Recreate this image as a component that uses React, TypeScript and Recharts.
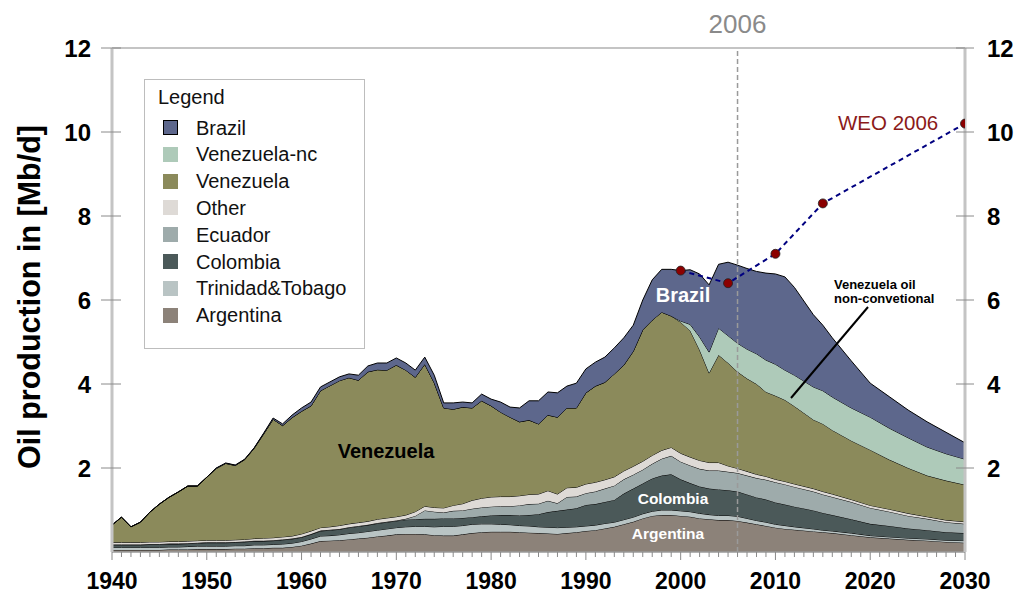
import React from 'react';
import { ComposedChart, Area, Line, XAxis, YAxis, ReferenceLine } from 'recharts';

const FONT = '"Liberation Sans", Arial, Helvetica, sans-serif';

const years = [
  1940, 1941, 1942, 1943, 1944, 1945, 1946, 1947, 1948, 1949,
  1950, 1951, 1952, 1953, 1954, 1955, 1956, 1957, 1958, 1959,
  1960, 1961, 1962, 1963, 1964, 1965, 1966, 1967, 1968, 1969,
  1970, 1971, 1972, 1973, 1974, 1975, 1976, 1977, 1978, 1979,
  1980, 1981, 1982, 1983, 1984, 1985, 1986, 1987, 1988, 1989,
  1990, 1991, 1992, 1993, 1994, 1995, 1996, 1997, 1998, 1999,
  2000, 2001, 2002, 2003, 2004, 2005, 2006, 2007, 2008, 2009,
  2010, 2011, 2012,
  2014, 2015, 2016, 2018, 2020, 2022, 2024, 2026, 2028, 2030,
];

const argentina = [
  0.05, 0.05, 0.05, 0.05, 0.05, 0.05, 0.06, 0.06, 0.06, 0.07,
  0.07, 0.07, 0.07, 0.08, 0.08, 0.09, 0.09, 0.10, 0.10, 0.12,
  0.15, 0.20, 0.26, 0.27, 0.28, 0.30, 0.32, 0.34, 0.37, 0.39,
  0.42, 0.43, 0.43, 0.42, 0.40, 0.39, 0.39, 0.42, 0.45, 0.47,
  0.48, 0.48, 0.48, 0.47, 0.46, 0.45, 0.44, 0.43, 0.45, 0.47,
  0.50, 0.52, 0.56, 0.60, 0.66, 0.72, 0.80, 0.86, 0.88, 0.88,
  0.86, 0.84, 0.80, 0.78, 0.76, 0.76, 0.74, 0.70, 0.66, 0.62,
  0.58, 0.55, 0.53,
  0.49, 0.47, 0.45, 0.40, 0.35, 0.32, 0.29, 0.27, 0.24, 0.22,
];

const trinidad = [
  0.06, 0.06, 0.06, 0.06, 0.06, 0.06, 0.06, 0.06, 0.07, 0.07,
  0.07, 0.07, 0.07, 0.07, 0.07, 0.08, 0.08, 0.08, 0.09, 0.09,
  0.10, 0.11, 0.12, 0.12, 0.13, 0.14, 0.14, 0.15, 0.15, 0.16,
  0.16, 0.17, 0.18, 0.19, 0.20, 0.22, 0.22, 0.21, 0.21, 0.20,
  0.19, 0.18, 0.17, 0.16, 0.16, 0.15, 0.15, 0.15, 0.14, 0.13,
  0.12, 0.12, 0.12, 0.11, 0.11, 0.11, 0.11, 0.11, 0.12, 0.12,
  0.12, 0.12, 0.12, 0.11, 0.11, 0.11, 0.11, 0.10, 0.09, 0.09,
  0.08, 0.08, 0.07,
  0.06, 0.05, 0.05, 0.05, 0.04, 0.04, 0.04, 0.04, 0.04, 0.05,
];

const colombia = [
  0.06, 0.06, 0.06, 0.06, 0.07, 0.07, 0.07, 0.07, 0.07, 0.07,
  0.08, 0.08, 0.08, 0.08, 0.09, 0.09, 0.09, 0.09, 0.10, 0.10,
  0.10, 0.11, 0.12, 0.13, 0.13, 0.14, 0.15, 0.15, 0.16, 0.16,
  0.16, 0.17, 0.17, 0.18, 0.19, 0.19, 0.19, 0.18, 0.17, 0.18,
  0.20, 0.22, 0.23, 0.24, 0.26, 0.30, 0.36, 0.40, 0.42, 0.44,
  0.50, 0.50, 0.51, 0.53, 0.62, 0.68, 0.72, 0.78, 0.82, 0.85,
  0.75, 0.68, 0.64, 0.62, 0.62, 0.60, 0.59, 0.57, 0.55, 0.54,
  0.52, 0.50, 0.48,
  0.44, 0.41, 0.38, 0.33, 0.28, 0.26, 0.23, 0.21, 0.19, 0.18,
];

const ecuador = [
  0.01, 0.01, 0.01, 0.01, 0.01, 0.01, 0.01, 0.01, 0.01, 0.01,
  0.01, 0.01, 0.01, 0.01, 0.01, 0.01, 0.01, 0.01, 0.01, 0.01,
  0.01, 0.01, 0.01, 0.01, 0.01, 0.01, 0.01, 0.01, 0.01, 0.01,
  0.01, 0.02, 0.08, 0.20, 0.17, 0.14, 0.18, 0.18, 0.20, 0.21,
  0.21, 0.21, 0.21, 0.24, 0.26, 0.25, 0.27, 0.18, 0.30, 0.28,
  0.28, 0.30, 0.32, 0.34, 0.34, 0.33, 0.33, 0.35, 0.40, 0.44,
  0.42, 0.42, 0.42, 0.43, 0.45, 0.44, 0.44, 0.45, 0.46, 0.47,
  0.48, 0.48, 0.47,
  0.45, 0.44, 0.43, 0.41, 0.38, 0.34, 0.30, 0.27, 0.24, 0.22,
];

const other = [
  0.05, 0.05, 0.05, 0.05, 0.05, 0.05, 0.05, 0.05, 0.05, 0.05,
  0.05, 0.05, 0.05, 0.05, 0.05, 0.05, 0.06, 0.06, 0.06, 0.06,
  0.07, 0.07, 0.07, 0.07, 0.08, 0.08, 0.08, 0.08, 0.09, 0.09,
  0.09, 0.09, 0.10, 0.10, 0.10, 0.11, 0.13, 0.16, 0.20, 0.22,
  0.23, 0.23, 0.23, 0.23, 0.23, 0.23, 0.24, 0.22, 0.22, 0.22,
  0.22, 0.22, 0.21, 0.21, 0.20, 0.20, 0.20, 0.20, 0.20, 0.20,
  0.20, 0.20, 0.20, 0.19, 0.19, 0.14, 0.11, 0.10, 0.09, 0.08,
  0.07, 0.07, 0.07,
  0.07, 0.07, 0.07, 0.06, 0.06, 0.06, 0.06, 0.05, 0.05, 0.05,
];

const venezuela = [
  0.41, 0.60, 0.37, 0.48, 0.71, 0.90, 1.05, 1.18, 1.31, 1.30,
  1.50, 1.71, 1.83, 1.77, 1.90, 2.15, 2.48, 2.82, 2.65, 2.82,
  2.92, 2.98, 3.26, 3.36, 3.45, 3.48, 3.39, 3.56, 3.56, 3.52,
  3.61, 3.45, 3.20, 3.38, 2.97, 2.38, 2.29, 2.30, 2.20, 2.32,
  2.17, 2.01, 1.89, 1.76, 1.77, 1.67, 1.80, 1.83, 1.90, 1.89,
  2.17, 2.29, 2.32, 2.45, 2.52, 2.74, 3.13, 3.22, 3.29, 3.13,
  3.12, 3.01, 2.63, 2.13, 2.56, 2.45, 2.30, 2.21, 2.15, 2.01,
  1.99, 1.94, 1.85,
  1.64, 1.61, 1.52, 1.40, 1.32, 1.18, 1.08, 0.98, 0.94, 0.88,
];

const venezuelaNc = [
  0, 0, 0, 0, 0, 0, 0, 0, 0, 0,
  0, 0, 0, 0, 0, 0, 0, 0, 0, 0,
  0, 0, 0, 0, 0, 0, 0, 0, 0, 0,
  0, 0, 0, 0, 0, 0, 0, 0, 0, 0,
  0, 0, 0, 0, 0, 0, 0, 0, 0, 0,
  0, 0, 0, 0, 0, 0, 0, 0, 0, 0,
  0.03, 0.15, 0.31, 0.50, 0.64, 0.65, 0.68, 0.70, 0.72, 0.76,
  0.75, 0.71, 0.74,
  0.78, 0.79, 0.79, 0.78, 0.78, 0.75, 0.72, 0.68, 0.64, 0.61,
];

const brazil = [
  0, 0, 0, 0, 0, 0, 0, 0, 0, 0,
  0, 0.01, 0.01, 0.01, 0.01, 0.01, 0.02, 0.03, 0.04, 0.06,
  0.08, 0.09, 0.09, 0.09, 0.09, 0.09, 0.12, 0.14, 0.16, 0.17,
  0.17, 0.17, 0.17, 0.17, 0.18, 0.12, 0.15, 0.12, 0.12, 0.16,
  0.16, 0.24, 0.24, 0.33, 0.46, 0.55, 0.55, 0.58, 0.52, 0.59,
  0.57, 0.57, 0.60, 0.62, 0.65, 0.62, 0.71, 0.96, 1.02, 1.11,
  1.20, 1.30, 1.50, 1.60, 1.52, 1.75, 1.86, 1.92, 1.96, 2.07,
  2.15, 2.22, 2.09,
  1.72, 1.56, 1.41, 1.12, 0.81, 0.75, 0.66, 0.60, 0.51, 0.39,
];

const weoYears = [2000, 2005, 2010, 2015, 2030];
const weoValues = [6.7, 6.4, 7.1, 8.3, 10.2];

const xTickLabels = [1940, 1950, 1960, 1970, 1980, 1990, 2000, 2010, 2020, 2030];
const yTickLabels = [2, 4, 6, 8, 10, 12];
const minorTicks = Array.from({ length: 91 }, (_, i) => 1940 + i);

const series = [
  { key: 'argentina', name: 'Argentina', color: '#8c8279', values: argentina },
  { key: 'trinidad', name: 'Trinidad&Tobago', color: '#b9c4c4', values: trinidad },
  { key: 'colombia', name: 'Colombia', color: '#4b5959', values: colombia },
  { key: 'ecuador', name: 'Ecuador', color: '#9eabab', values: ecuador },
  { key: 'other', name: 'Other', color: '#dedad6', values: other },
  { key: 'venezuela', name: 'Venezuela', color: '#8b8a5b', values: venezuela },
  { key: 'venezuelaNc', name: 'Venezuela-nc', color: '#aecab9', values: venezuelaNc },
  { key: 'brazil', name: 'Brazil', color: '#5d678c', values: brazil },
];

const data = years.map((year, i) => {
  const row: Record<string, number | null> = { year };
  series.forEach((s) => {
    row[s.key] = s.values[i];
  });
  const w = weoYears.indexOf(year);
  row.weo = w >= 0 ? weoValues[w] : null;
  return row;
});

const XTick = (props: any) => {
  const { x, y, payload } = props;
  const major = xTickLabels.includes(payload.value);
  return (
    <g>
      <line x1={x} x2={x} y1={y} y2={y + (major ? 8 : 5)} stroke="#8a8a8a" strokeWidth={1} />
      {major && (
        <text x={x} y={y + 37} textAnchor="middle" fontSize={23} fontWeight="bold" fontFamily={FONT} fill="#000">
          {payload.value}
        </text>
      )}
    </g>
  );
};

const YTickLeft = (props: any) => {
  const { x, y, payload } = props;
  return (
    <g>
      <line x1={x - 11} x2={x + 9} y1={y} y2={y} stroke="#8a8a8a" strokeWidth={1} />
      <text x={x - 21} y={y + 8.5} textAnchor="end" fontSize={24} fontWeight="bold" fontFamily={FONT} fill="#000">
        {payload.value}
      </text>
    </g>
  );
};

const YTickRight = (props: any) => {
  const { x, y, payload } = props;
  return (
    <g>
      <line x1={x - 9} x2={x + 9} y1={y} y2={y} stroke="#8a8a8a" strokeWidth={1} />
      <text x={x + 22} y={y + 8.5} textAnchor="start" fontSize={24} fontWeight="bold" fontFamily={FONT} fill="#000">
        {payload.value}
      </text>
    </g>
  );
};

const WeoDot = (props: any) => {
  const { cx, cy, payload, index } = props;
  if (payload == null || payload.weo == null || cx == null || cy == null) return <g key={`d${index}`} />;
  return <circle key={`d${index}`} cx={cx} cy={cy} r={4.5} fill="#8b0000" stroke="#222" strokeWidth={0.8} />;
};

const YearLabel = (props: any) => {
  const vb = props.viewBox || {};
  return (
    <text x={vb.x} y={vb.y - 15} textAnchor="middle" fontSize={26} fontFamily={FONT} fill="#8a8a8a">
      2006
    </text>
  );
};

const legendItems = [...series].reverse();

export default function App() {
  return (
    <div style={{ position: 'absolute', left: 0, top: 0, width: 1018, height: 593, background: '#fff', fontFamily: FONT }}>
      <ComposedChart width={1018} height={593} data={data} margin={{ top: 48, right: 0, bottom: 0, left: 0 }}>
        <XAxis
          dataKey="year"
          type="number"
          domain={[1940, 2030]}
          ticks={minorTicks}
          interval={0}
          tickLine={false}
          tickSize={0}
          tickMargin={0}
          height={41}
          axisLine={{ stroke: '#9a9a9a', strokeWidth: 1.5 }}
          tick={<XTick />}
          allowDataOverflow
        />
        <YAxis
          yAxisId="l"
          type="number"
          domain={[0, 12]}
          ticks={yTickLabels}
          interval={0}
          width={112}
          tickLine={false}
          tickSize={0}
          tickMargin={0}
          axisLine={{ stroke: '#c4c4c4', strokeWidth: 3 }}
          tick={<YTickLeft />}
          allowDataOverflow
        />
        <YAxis
          yAxisId="r"
          orientation="right"
          type="number"
          domain={[0, 12]}
          ticks={yTickLabels}
          interval={0}
          width={53}
          tickLine={false}
          tickSize={0}
          tickMargin={0}
          axisLine={{ stroke: '#c4c4c4', strokeWidth: 3 }}
          tick={<YTickRight />}
          allowDataOverflow
        />
        <ReferenceLine yAxisId="l" y={12} stroke="#c4c4c4" strokeWidth={2} />
        {series.map((s) => (
          <Area
            key={s.key}
            yAxisId="l"
            type="linear"
            dataKey={s.key}
            name={s.name}
            stackId="a"
            fill={s.color}
            fillOpacity={1}
            stroke="#000"
            strokeWidth={1}
            dot={false}
            activeDot={false}
            isAnimationActive={false}
          />
        ))}
        <ReferenceLine
          yAxisId="l"
          x={2006}
          stroke="#9a9a9a"
          strokeWidth={1.5}
          strokeDasharray="5 3"
          label={<YearLabel />}
        />
        <Line
          yAxisId="l"
          type="linear"
          dataKey="weo"
          connectNulls
          stroke="#000080"
          strokeWidth={2}
          strokeDasharray="5 4"
          dot={<WeoDot />}
          activeDot={false}
          isAnimationActive={false}
        />
      </ComposedChart>

      <svg width={1018} height={593} style={{ position: 'absolute', left: 0, top: 0, pointerEvents: 'none' }}>
        <text transform="translate(40,297) rotate(-90)" textAnchor="middle" fontSize={30.5} fontWeight="bold" fontFamily={FONT} fill="#000">
          Oil production in [Mb/d]
        </text>
        <text x={386} y={458} textAnchor="middle" fontSize={20} fontWeight="bold" fontFamily={FONT} fill="#000">
          Venezuela
        </text>
        <text x={683} y={302} textAnchor="middle" fontSize={20} fontWeight="bold" fontFamily={FONT} fill="#fff">
          Brazil
        </text>
        <text x={673} y={503.5} textAnchor="middle" fontSize={15.5} fontWeight="bold" fontFamily={FONT} fill="#fff">
          Colombia
        </text>
        <text x={668} y={538.5} textAnchor="middle" fontSize={15.5} fontWeight="bold" fontFamily={FONT} fill="#fff">
          Argentina
        </text>
        <text x={834} y={289} fontSize={13} fontWeight="bold" fontFamily={FONT} fill="#000">
          Venezuela oil
        </text>
        <text x={834} y={302.5} fontSize={13} fontWeight="bold" fontFamily={FONT} fill="#000">
          non-convetional
        </text>
        <line x1={868} y1={307} x2={791} y2={398} stroke="#000" strokeWidth={2} />
        <text x={838} y={130} fontSize={20.5} fontFamily={FONT} fill="#8b1a1a">
          WEO 2006
        </text>
      </svg>

      <div
        style={{
          position: 'absolute',
          left: 144,
          top: 79,
          width: 219,
          height: 268,
          border: '1px solid #bdbdbd',
          background: '#fff',
          fontFamily: FONT,
          fontSize: 20,
          color: '#111',
        }}
      >
        <div style={{ position: 'absolute', left: 13, top: 5, lineHeight: '24px' }}>Legend</div>
        {legendItems.map((s, i) => (
          <div key={s.key} style={{ position: 'absolute', left: 0, top: 35.5 + i * 26.8, height: 24, width: 219 }}>
            <div
              style={{
                position: 'absolute',
                left: 17.5,
                top: 4.5,
                width: s.key === 'brazil' ? 13 : 15.5,
                height: s.key === 'brazil' ? 13 : 15,
                background: s.color,
                border: s.key === 'brazil' ? '1.5px solid #000' : 'none',
              }}
            />
            <div style={{ position: 'absolute', left: 51, top: 0, lineHeight: '24px', whiteSpace: 'nowrap' }}>{s.name}</div>
          </div>
        ))}
      </div>
    </div>
  );
}
